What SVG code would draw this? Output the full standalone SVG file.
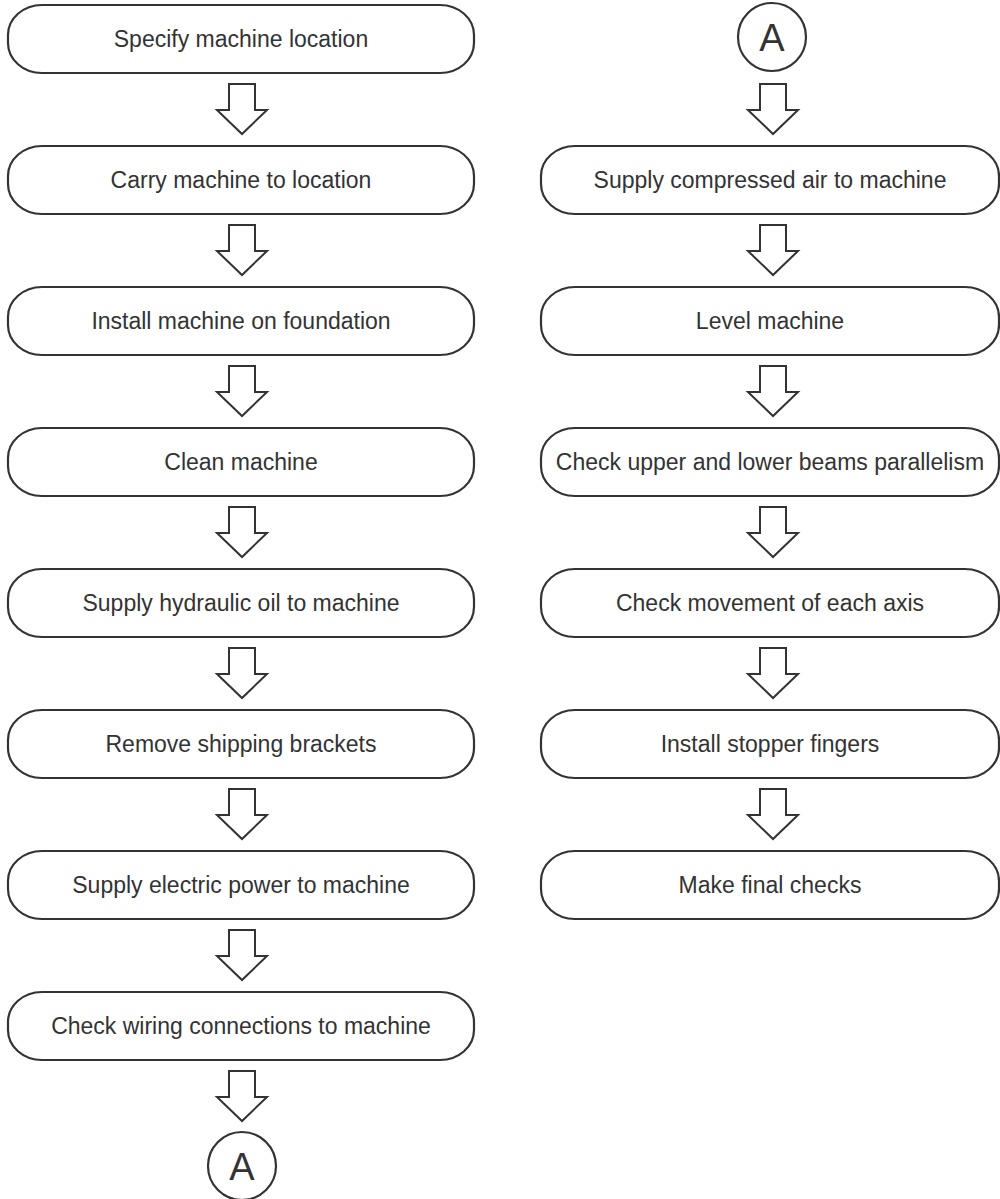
<svg xmlns="http://www.w3.org/2000/svg" width="1000" height="1199" viewBox="0 0 1000 1199">
<defs>
<style>
.box{fill:#fff;stroke:#333;stroke-width:2.2}
.t{font-family:"Liberation Sans",Arial,sans-serif;font-size:23px;fill:#333;text-anchor:middle}
.arr{fill:#fff;stroke:#333;stroke-width:2;stroke-linejoin:miter}
.ca{font-family:"Liberation Sans",Arial,sans-serif;font-size:38px;fill:#333;text-anchor:middle}
</style>
<path id="dn" d="M-13,0 H13 V26 H25 L0,50 L-25,26 H-13 Z"/>
</defs>
<rect width="1000" height="1199" fill="#fff"/>
<g id="n1"><rect class="box" x="8" y="5" width="466" height="68" rx="34" ry="30"/><text class="t" x="241" y="47">Specify machine location</text></g>
<g id="n2"><rect class="box" x="8" y="146" width="466" height="68" rx="34" ry="30"/><text class="t" x="241" y="188">Carry machine to location</text></g>
<g id="n3"><rect class="box" x="8" y="287" width="466" height="68" rx="34" ry="30"/><text class="t" x="241" y="329">Install machine on foundation</text></g>
<g id="n4"><rect class="box" x="8" y="428" width="466" height="68" rx="34" ry="30"/><text class="t" x="241" y="470">Clean machine</text></g>
<g id="n5"><rect class="box" x="8" y="569" width="466" height="68" rx="34" ry="30"/><text class="t" x="241" y="611">Supply hydraulic oil to machine</text></g>
<g id="n6"><rect class="box" x="8" y="710" width="466" height="68" rx="34" ry="30"/><text class="t" x="241" y="752">Remove shipping brackets</text></g>
<g id="n7"><rect class="box" x="8" y="851" width="466" height="68" rx="34" ry="30"/><text class="t" x="241" y="893">Supply electric power to machine</text></g>
<g id="n8"><rect class="box" x="8" y="992" width="466" height="68" rx="34" ry="30"/><text class="t" x="241" y="1034">Check wiring connections to machine</text></g>
<g id="a1"><circle class="box" cx="242" cy="1166" r="34"/><text class="ca" x="242" y="1180">A</text></g>
<g id="a2"><circle class="box" cx="772" cy="37" r="34"/><text class="ca" x="772" y="51">A</text></g>
<g id="r1"><rect class="box" x="541" y="146" width="458" height="68" rx="34" ry="30"/><text class="t" x="770" y="188">Supply compressed air to machine</text></g>
<g id="r2"><rect class="box" x="541" y="287" width="458" height="68" rx="34" ry="30"/><text class="t" x="770" y="329">Level machine</text></g>
<g id="r3"><rect class="box" x="541" y="428" width="458" height="68" rx="34" ry="30"/><text class="t" x="770" y="470">Check upper and lower beams parallelism</text></g>
<g id="r4"><rect class="box" x="541" y="569" width="458" height="68" rx="34" ry="30"/><text class="t" x="770" y="611">Check movement of each axis</text></g>
<g id="r5"><rect class="box" x="541" y="710" width="458" height="68" rx="34" ry="30"/><text class="t" x="770" y="752">Install stopper fingers</text></g>
<g id="r6"><rect class="box" x="541" y="851" width="458" height="68" rx="34" ry="30"/><text class="t" x="770" y="893">Make final checks</text></g>
<g id="connectors">
<use href="#dn" class="arr" x="242" y="84"/>
<use href="#dn" class="arr" x="242" y="225"/>
<use href="#dn" class="arr" x="242" y="366"/>
<use href="#dn" class="arr" x="242" y="507"/>
<use href="#dn" class="arr" x="242" y="648"/>
<use href="#dn" class="arr" x="242" y="789"/>
<use href="#dn" class="arr" x="242" y="930"/>
<use href="#dn" class="arr" x="242" y="1071"/>
<use href="#dn" class="arr" x="773" y="84"/>
<use href="#dn" class="arr" x="773" y="225"/>
<use href="#dn" class="arr" x="773" y="366"/>
<use href="#dn" class="arr" x="773" y="507"/>
<use href="#dn" class="arr" x="773" y="648"/>
<use href="#dn" class="arr" x="773" y="789"/>
</g>
</svg>
